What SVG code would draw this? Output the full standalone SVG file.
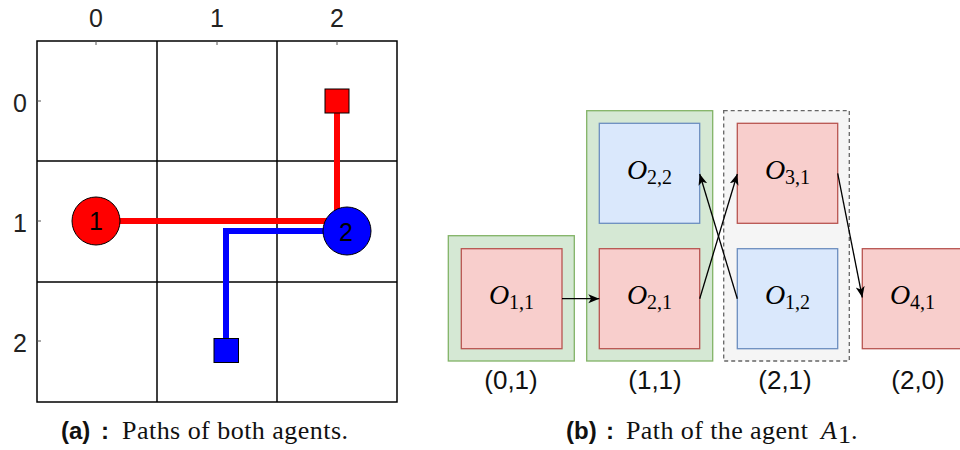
<svg xmlns="http://www.w3.org/2000/svg" width="960" height="450" viewBox="0 0 960 450">
<defs>
<marker id="arr" markerUnits="userSpaceOnUse" markerWidth="13" markerHeight="10" refX="11" refY="4.5" orient="auto">
<path d="M0,0 L11,4.5 L0,9 L2.8,4.5 z" fill="#000"/>
</marker>
<style>
.tick{font-family:"Liberation Sans",Arial,sans-serif;font-size:25px;fill:#222;text-anchor:middle}
.grid{stroke:#000;stroke-width:1.5;fill:none}
.agent{stroke:#000;stroke-width:1}
.num{font-family:"Liberation Sans",Arial,sans-serif;font-size:25px;fill:#000;text-anchor:middle}
.cont-g{fill:#d5e8d4;stroke:#82b366;stroke-width:1.3}
.cont-gray{fill:#f5f5f5;stroke:#666;stroke-width:1.3;stroke-dasharray:4 3}
.red{fill:#f8cecc;stroke:#b85450;stroke-width:1.3}
.blue{fill:#dae8fc;stroke:#6c8ebf;stroke-width:1.3}
.math{font-family:"Liberation Serif","Times New Roman",serif;font-size:28px;fill:#000;text-anchor:middle}
.math .o{font-style:italic}
.math .sub{font-size:20px}
.lab{font-family:"Liberation Sans",Arial,sans-serif;font-size:26px;fill:#111;text-anchor:middle}
.conn{stroke:#000;stroke-width:1.3;fill:none;marker-end:url(#arr)}
.capb{font-family:"Liberation Sans",Arial,sans-serif;font-weight:bold;font-size:24px;fill:#111}
.capt{font-family:"Liberation Serif","Times New Roman",serif;font-size:26px;fill:#111}
</style>
</defs>
<rect width="960" height="450" fill="#fff"/>

<!-- Panel (a) -->
<g id="grid">
<rect class="grid" x="37" y="41" width="360" height="361"/>
<line class="grid" x1="157" y1="41" x2="157" y2="402"/>
<line class="grid" x1="277" y1="41" x2="277" y2="402"/>
<line class="grid" x1="37" y1="161" x2="397" y2="161"/>
<line class="grid" x1="37" y1="282" x2="397" y2="282"/>
<g stroke="#555" stroke-width="1">
<line x1="96" y1="41" x2="96" y2="45"/>
<line x1="217" y1="41" x2="217" y2="45"/>
<line x1="337" y1="41" x2="337" y2="45"/>
<line x1="37" y1="101" x2="41" y2="101"/>
<line x1="37" y1="221" x2="41" y2="221"/>
<line x1="37" y1="341" x2="41" y2="341"/>
</g>
<text class="tick" x="96" y="27">0</text>
<text class="tick" x="217" y="27">1</text>
<text class="tick" x="337" y="27">2</text>
<text class="tick" x="20" y="112">0</text>
<text class="tick" x="20" y="232">1</text>
<text class="tick" x="20" y="352">2</text>
</g>

<g id="paths">
<polyline points="96,221 337,221 337,101" fill="none" stroke="#ff0000" stroke-width="6"/>
<polyline points="347,231 226,231 226,350" fill="none" stroke="#0000ff" stroke-width="6"/>
</g>

<g id="goal1"><rect class="agent" x="325" y="89" width="24" height="24" fill="#ff0000"/></g>
<g id="goal2"><rect class="agent" x="214" y="338.5" width="24.5" height="24" fill="#0000ff"/></g>
<g id="agent1"><circle class="agent" cx="96" cy="221" r="24" fill="#ff0000"/><text class="num" x="96" y="230">1</text></g>
<g id="agent2"><circle class="agent" cx="347" cy="231" r="24" fill="#0000ff"/><text class="num" x="346" y="241">2</text></g>

<text x="61" y="439" class="capb">(a)</text>
<text x="101" y="439" class="capb">:</text>
<text x="122" y="439" class="capt" textLength="226" lengthAdjust="spacing">Paths of both agents.</text>

<!-- Panel (b) -->
<g id="state01">
<rect class="cont-g" x="448.3" y="235.7" width="126" height="125.3"/>
<text class="lab" x="511" y="389">(0,1)</text>
</g>
<g id="state11">
<rect class="cont-g" x="586.7" y="110.7" width="126" height="250.3"/>
<text class="lab" x="655" y="389">(1,1)</text>
</g>
<g id="state21">
<rect class="cont-gray" x="723.7" y="110.7" width="125.6" height="250.3"/>
<text class="lab" x="785" y="389">(2,1)</text>
</g>
<g id="state20">
<text class="lab" x="918" y="389">(2,0)</text>
</g>

<g id="O11">
<rect class="red" x="461.3" y="248.7" width="100.7" height="100"/>
<text class="math" x="511.5" y="304"><tspan class="o">O</tspan><tspan class="sub" dy="5">1,1</tspan></text>
</g>
<g id="O22">
<rect class="blue" x="599.3" y="123.3" width="100.4" height="100"/>
<text class="math" x="649.5" y="179"><tspan class="o">O</tspan><tspan class="sub" dy="5">2,2</tspan></text>
</g>
<g id="O21">
<rect class="red" x="599.3" y="248.7" width="100.4" height="100"/>
<text class="math" x="649.5" y="304"><tspan class="o">O</tspan><tspan class="sub" dy="5">2,1</tspan></text>
</g>
<g id="O31">
<rect class="red" x="737.3" y="123.3" width="100.4" height="100"/>
<text class="math" x="787.5" y="179"><tspan class="o">O</tspan><tspan class="sub" dy="5">3,1</tspan></text>
</g>
<g id="O12">
<rect class="blue" x="737.3" y="248.7" width="100.4" height="100"/>
<text class="math" x="787.5" y="304"><tspan class="o">O</tspan><tspan class="sub" dy="5">1,2</tspan></text>
</g>
<g id="O41">
<rect class="red" x="862.3" y="248.7" width="100.4" height="100"/>
<text class="math" x="912.5" y="304"><tspan class="o">O</tspan><tspan class="sub" dy="5">4,1</tspan></text>
</g>

<g id="connectors">
<line class="conn" x1="562" y1="298.7" x2="599.3" y2="298.7"/>
<line class="conn" x1="699.7" y1="298.7" x2="737.3" y2="174"/>
<line class="conn" x1="737.3" y1="298.7" x2="699.7" y2="174"/>
<line class="conn" x1="837.7" y1="173.3" x2="862.3" y2="297.5"/>
</g>

<text x="566" y="439" class="capb">(b)</text>
<text x="606" y="439" class="capb">:</text>
<text x="626" y="439" class="capt" textLength="182" lengthAdjust="spacing">Path of the agent</text>
<text x="821" y="439" class="capt" font-style="italic">A</text>
<text x="838" y="443" class="capt" font-size="18">1</text>
<text x="851" y="439" class="capt">.</text>
</svg>
